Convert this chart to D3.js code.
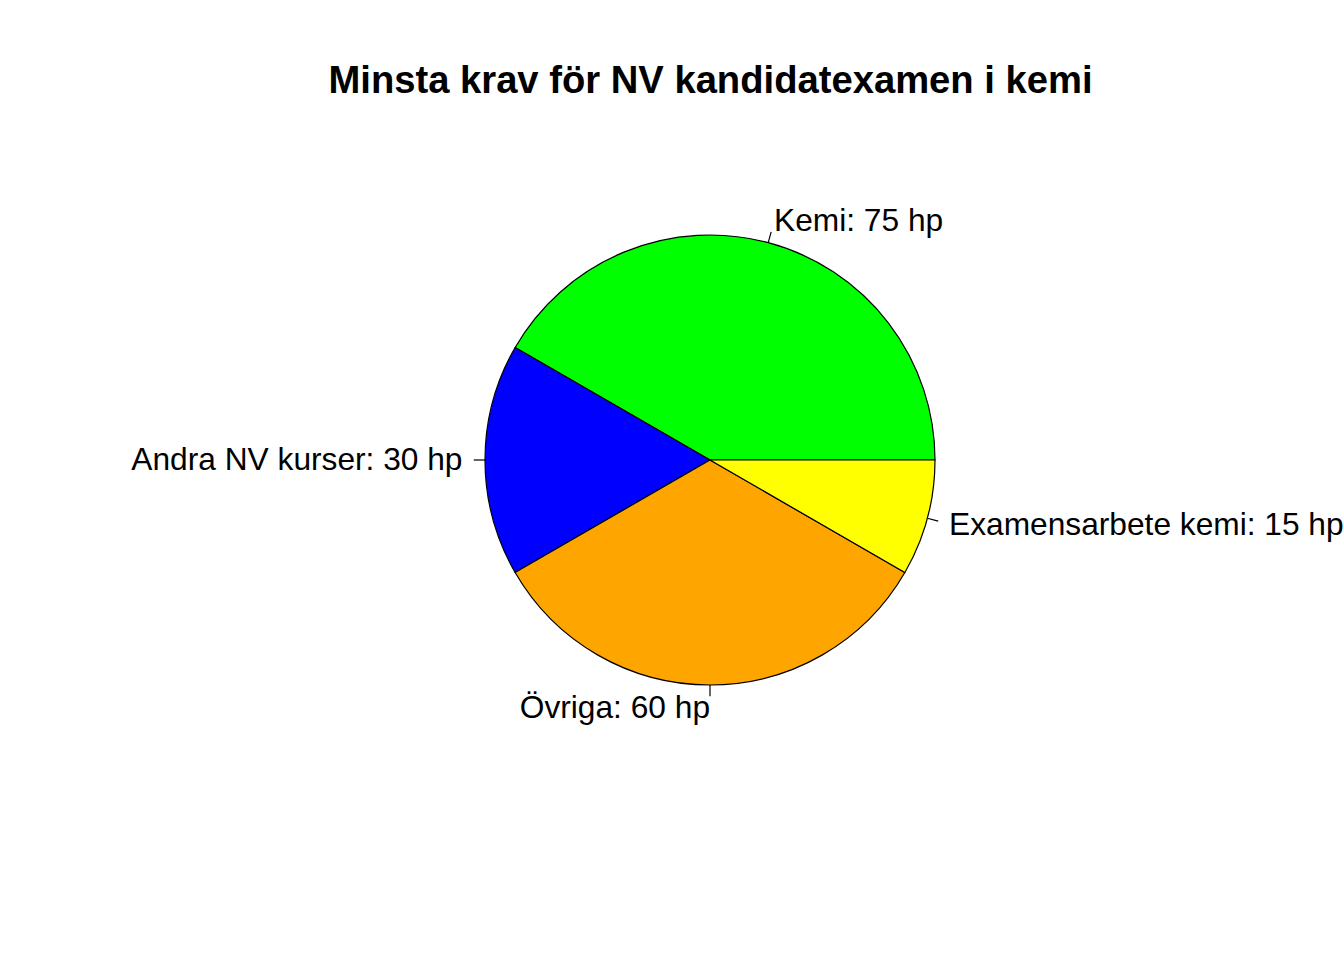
<!DOCTYPE html>
<html>
<head>
<meta charset="utf-8">
<script src="https://cdn.jsdelivr.net/npm/d3@7"></script>
<style>
html,body{margin:0;padding:0;background:#fff;}
svg{display:block;}
</style>
</head>
<body>
<script>
const categories = ["Kemi", "Andra NV kurser", "Övriga", "Examensarbete kemi"];
const values = [75, 30, 60, 15];
const labels = ["Kemi: 75 hp", "Andra NV kurser: 30 hp", "Övriga: 60 hp", "Examensarbete kemi: 15 hp"];
const colors = ["#00FF00", "#0000FF", "#FFA500", "#FFFF00"];
const title = "Minsta krav för NV kandidatexamen i kemi";

const W = 1344, H = 960;
const cx = 710, cy = 460, r = 225;

const svg = d3.select("body").append("svg").attr("width", W).attr("height", H);

svg.append("text")
  .attr("x", 710.5).attr("y", 93)
  .attr("text-anchor", "middle")
  .attr("font-family", "Liberation Sans, Arial, sans-serif")
  .attr("font-weight", "bold")
  .attr("font-size", 38.2)
  .text(title);

const data = categories.map((c, i) => ({ cat: c, value: values[i], label: labels[i], color: colors[i] }));

// R pie: counterclockwise starting at 3 o'clock
const pie = d3.pie().sort(null).value(d => d.value)
  .startAngle(Math.PI / 2).endAngle(Math.PI / 2 - 2 * Math.PI);
const arcs = pie(data);
const arc = d3.arc().innerRadius(0).outerRadius(r);

const g = svg.append("g").attr("transform", `translate(${cx},${cy})`);

g.selectAll("path.slice").data(arcs).enter().append("path")
  .attr("class", "slice")
  .attr("d", arc)
  .attr("fill", d => d.data.color)
  .attr("stroke", "#000")
  .attr("stroke-width", 1.2)
  .attr("stroke-linejoin", "round");

arcs.forEach(d => {
  const a = (d.startAngle + d.endAngle) / 2;
  const sx = Math.sin(a), sy = -Math.cos(a);
  g.append("line")
    .attr("x1", r * sx).attr("y1", r * sy)
    .attr("x2", 1.05 * r * sx).attr("y2", 1.05 * r * sy)
    .attr("stroke", "#000").attr("stroke-width", 1.2);
  g.append("text")
    .attr("x", 1.1 * r * sx).attr("y", 1.1 * r * sy)
    .attr("dy", "0.33em")
    .attr("text-anchor", sx > 1e-9 ? "start" : "end")
    .attr("font-family", "Liberation Sans, Arial, sans-serif")
    .attr("font-size", 31.7)
    .text(d.data.label);
});
</script>
</body>
</html>
